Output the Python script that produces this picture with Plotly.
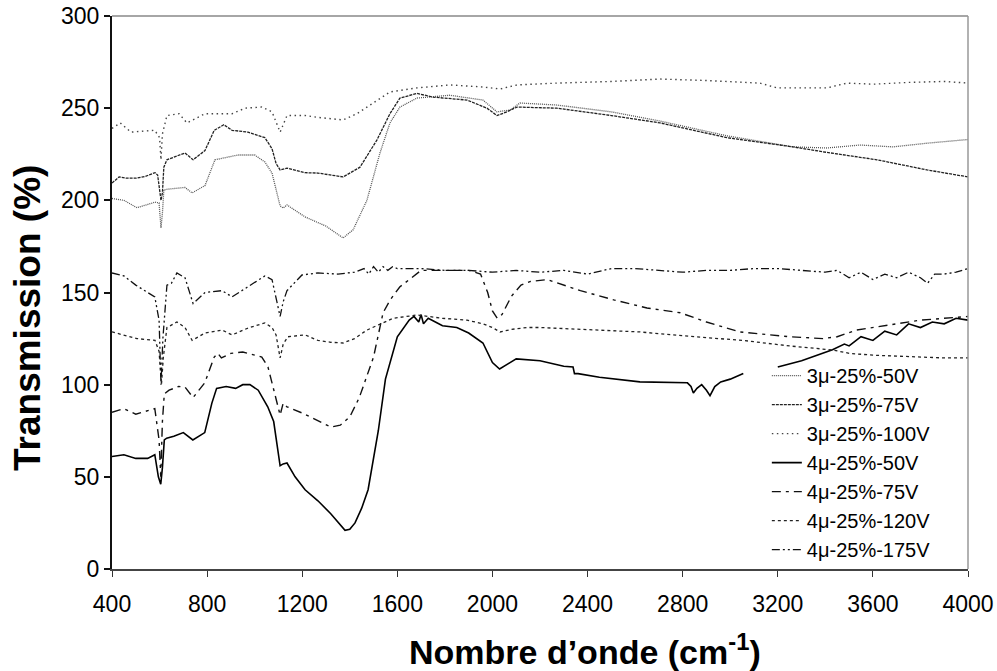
import plotly.graph_objects as go

# Wavenumber (cm-1) and transmission (%) samples for each film
x_3u_50 = [400, 450, 505, 581, 598, 606, 612, 618, 631, 673, 707, 737, 791, 833, 875, 930, 1000,
           1043, 1073, 1090, 1107, 1120, 1136, 1212, 1300, 1372, 1414, 1472, 1527, 1569, 1611, 1683,
           1821, 1960, 2019, 2074, 2116, 2271, 2500, 2705, 2986, 3264, 3407, 3546, 3685, 3828, 4000]
y_3u_50 = [201, 200, 196, 199, 198.6, 185, 193, 205.6, 206, 206.7, 207, 204, 208, 222, 223, 224.6, 224.6,
           220.8, 214.8, 205, 197, 195.8, 197.5, 191, 186, 179.6, 184, 200, 225.7, 242, 250.6, 255.5,
           257, 254.4, 248, 249, 252.8, 251.7, 248, 243, 235, 229, 228.4, 230, 229, 231, 233]

x_3u_75 = [400, 430, 460, 500, 540, 581, 592, 600, 606, 612, 618, 631, 670, 707, 741, 791, 830, 870,
           905, 972, 1043, 1073, 1090, 1107, 1136, 1212, 1266, 1372, 1443, 1514, 1569, 1611, 1683,
           1750, 1893, 1977, 2019, 2061, 2103, 2271, 2500, 2705, 2986, 3264, 3407, 3617, 3828, 4000]
y_3u_75 = [209.4, 212.7, 212, 212, 213, 215, 213.7, 205, 200, 204, 218, 222, 224, 225.7, 222, 227, 238, 241,
           238, 237, 234, 228, 220, 216.5, 217.5, 215, 214.8, 212.7, 218, 232.7, 247, 255.5, 258,
           256, 254.4, 250, 246, 248, 250.6, 250, 246, 242, 234, 229, 226, 222, 216.5, 212.7]

x_3u_100 = [400, 435, 480, 580, 600, 606, 612, 631, 682, 715, 791, 850, 905, 960, 1030, 1073, 1090,
            1107, 1136, 1212, 1266, 1372, 1430, 1498, 1569, 1683, 1821, 1960, 2032, 2103, 2271, 2500,
            2705, 2900, 3125, 3197, 3407, 3491, 3600, 3756, 3900, 4000]
y_3u_100 = [239, 242, 237, 238, 234, 222, 236, 246, 247, 242, 247, 247, 247, 250, 250.6, 248, 242,
            237, 246, 246, 245, 243.6, 247, 253, 258.8, 261, 262.6, 261.5, 260.4, 262.6, 263.6, 264.5,
            265.8, 265, 263.6, 261, 261, 263.6, 263, 264, 264.5, 263.6]

x_4u_50 = [400, 450, 500, 550, 580, 595, 605, 612, 620, 630, 660, 700, 740, 790, 820, 840, 880, 920,
           950, 980, 1015, 1055, 1080, 1107, 1120, 1136, 1170, 1212, 1266, 1320, 1380, 1400, 1422,
           1450, 1477, 1500, 1520, 1550, 1600, 1650, 1670, 1690, 1700, 1710, 1730, 1760, 1790, 1850,
           1900, 1960, 2000, 2030, 2060, 2100, 2200, 2300, 2339, 2345, 2360, 2450, 2620, 2820, 2835,
           2845, 2860, 2880, 2900, 2915, 2935, 2960, 3000, 3055, None, 3200, 3300, 3430, 3480, 3500,
           3550, 3600, 3650, 3700, 3750, 3800, 3850, 3900, 3950, 4000]
y_4u_50 = [61, 62, 60, 60, 62, 50, 46, 55, 70, 71, 72, 74, 70, 74, 90, 98, 99, 98,
           100, 100, 97, 88, 80, 56, 57, 57.5, 50, 43, 37, 30, 21, 21.5, 25,
           33, 43, 59, 75, 103, 126, 135, 137, 134, 138, 133, 136, 134, 132, 131,
           128, 122.6, 112, 108.5, 111, 114, 113, 110, 109.6, 106, 106, 104, 101.5, 101, 99,
           95.5, 98, 100, 97, 94, 99, 101.5, 103, 106, None, 109.6, 113, 119, 122, 121,
           126, 124, 129, 127, 133, 131, 134, 133, 136, 135, 137]

x_4u_75 = [400, 450, 500, 550, 580, 598, 605, 612, 620, 640, 680, 707, 741, 790, 830, 845, 860, 900,
           950, 1000, 1030, 1056, 1085, 1107, 1120, 1136, 1200, 1260, 1320, 1360, 1400, 1440, 1500,
           1540, 1570, 1610, 1650, 1700, 1800, 1900, 1950, 1980, 2000, 2020, 2040, 2080, 2120, 2160,
           2230, 2370, 2510, 2650, 2790, 2900, 3040, 3250, 3390, 3450, 3530, 3650, 3800, 4000]
y_4u_75 = [85, 87, 84, 86, 87, 70, 50, 80, 95, 97, 99, 98.7, 93, 101, 115, 117, 114.5, 117,
           117.7, 116, 115, 109.6, 95.5, 83.5, 90, 88, 84.6, 81, 77, 78, 82.5, 93, 115,
           139, 146, 153, 157, 162, 162, 162, 160, 150, 140, 136, 138, 148, 154, 156,
           157, 151, 146, 141.6, 139, 134, 128.6, 126, 125, 126, 129.6, 132, 135, 137]

x_4u_120 = [400, 450, 505, 581, 598, 608, 616, 631, 673, 707, 737, 791, 863, 905, 972, 1043, 1073,
            1090, 1107, 1120, 1140, 1212, 1266, 1320, 1372, 1420, 1472, 1530, 1582, 1683, 1790, 1893,
            1960, 2000, 2032, 2080, 2145, 2200, 2284, 2400, 2621, 2850, 3054, 3250, 3432, 3500, 3600,
            3700, 3800, 3900, 4000]
y_4u_120 = [128.6, 127, 125, 124, 118, 100, 115, 131, 134, 131, 124, 128, 129.6, 127, 130.7, 133.5, 131,
            127, 114.5, 122, 126, 127, 124, 123, 122.6, 125, 129.6, 133, 136, 137.8, 136, 135,
            133, 131, 128.6, 130, 131, 131, 130.5, 130, 128.6, 126, 124, 121, 118.8, 117, 116,
            115.5, 115, 114.5, 114.5]

x_4u_175 = [400, 450, 500, 550, 580, 598, 606, 614, 631, 650, 673, 707, 741, 791, 863, 905, 972,
            1043, 1073, 1095, 1107, 1120, 1136, 1199, 1266, 1350, 1420, 1460, 1480, 1500, 1520, 1540,
            1560, 1580, 1600, 1640, 1700, 1800, 1900, 2000, 2100, 2200, 2300, 2400, 2500, 2600, 2700,
            2800, 2900, 3000, 3100, 3200, 3300, 3400, 3450, 3500, 3550, 3600, 3650, 3700, 3750, 3800,
            3830, 3860, 3900, 3950, 4000]
y_4u_175 = [160.6, 159, 154, 150, 147.6, 135, 100, 125, 154, 155, 160.6, 158, 144, 150, 151, 147.6, 153,
            159, 157, 145, 137, 145, 151, 159.5, 160.6, 160, 161, 163, 160, 164, 161, 164,
            162, 164, 163, 163, 163, 162, 162, 161, 162, 161, 162, 160, 163, 163, 162,
            161, 162, 162, 163, 163, 162, 161, 162, 158, 161, 157, 160, 158, 161, 158,
            155, 160, 160, 161, 163]

series = [
    ("3μ-25%-50V", x_3u_50, y_3u_50, "#555555", 1.3, "1px,1px"),
    ("3μ-25%-75V", x_3u_75, y_3u_75, "#222222", 1.3, "3px,1px"),
    ("3μ-25%-100V", x_3u_100, y_3u_100, "#444444", 1.4, "1.5px,3.5px"),
    ("4μ-25%-50V", x_4u_50, y_4u_50, "#000000", 1.6, "solid"),
    ("4μ-25%-75V", x_4u_75, y_4u_75, "#111111", 1.4, "9px,5px,3px,5px"),
    ("4μ-25%-120V", x_4u_120, y_4u_120, "#222222", 1.3, "3px,3px"),
    ("4μ-25%-175V", x_4u_175, y_4u_175, "#111111", 1.3, "8px,3px,2px,3px,2px,3px"),
]

fig = go.Figure()
for name, xs, ys, color, width, dash in series:
    fig.add_trace(go.Scatter(
        x=xs, y=ys, name=name, mode="lines", connectgaps=False,
        line=dict(color=color, width=width, dash=dash),
    ))

font_family = "Liberation Sans, Arial, sans-serif"

fig.update_layout(
    width=997, height=671,
    margin=dict(l=112, r=29, t=16, b=102),
    paper_bgcolor="white", plot_bgcolor="white",
    font=dict(family=font_family, color="black"),
    showlegend=True,
    legend=dict(
        x=0.765, y=0.385, xanchor="left", yanchor="top",
        bgcolor="rgba(255,255,255,0)", borderwidth=0,
        font=dict(size=20, family=font_family, color="black"),
    ),
    xaxis=dict(
        range=[400, 4000], tickmode="array",
        tickvals=[400, 800, 1200, 1600, 2000, 2400, 2800, 3200, 3600, 4000],
        ticks="outside", ticklen=6, tickcolor="#333", tickwidth=1,
        ticklabelstandoff=8, automargin=False,
        showline=True, linecolor="#444", linewidth=1.5,
        showgrid=False, zeroline=False,
        tickfont=dict(size=23, family=font_family),
    ),
    yaxis=dict(
        range=[0, 300], tickmode="array",
        tickvals=[0, 50, 100, 150, 200, 250, 300],
        ticks="outside", ticklen=6, tickcolor="#111", tickwidth=1.5,
        automargin=False,
        showline=True, linecolor="#111", linewidth=2,
        showgrid=False, zeroline=False,
        tickfont=dict(size=23, family=font_family),
    ),
    shapes=[
        dict(type="line", xref="paper", yref="paper", x0=0, x1=1, y0=1, y1=1,
             line=dict(color="#888", width=1.5)),
        dict(type="line", xref="paper", yref="paper", x0=1, x1=1, y0=0, y1=1,
             line=dict(color="#999", width=1.5)),
    ],
    annotations=[
        dict(text="<b>Nombre d’onde (cm<sup>-1</sup>)</b>", xref="paper", yref="paper",
             x=(585 - 112) / 856, y=-(649 - 569) / 553, xanchor="center", yanchor="middle",
             showarrow=False, font=dict(size=34, family=font_family)),
        dict(text="<b>Transmission (%)</b>", xref="paper", yref="paper",
             x=-(112 - 27) / 856, y=(569 - 318) / 553, xanchor="center", yanchor="middle",
             textangle=-90, showarrow=False, font=dict(size=37, family=font_family)),
    ],
)

fig.write_html("out.html")
